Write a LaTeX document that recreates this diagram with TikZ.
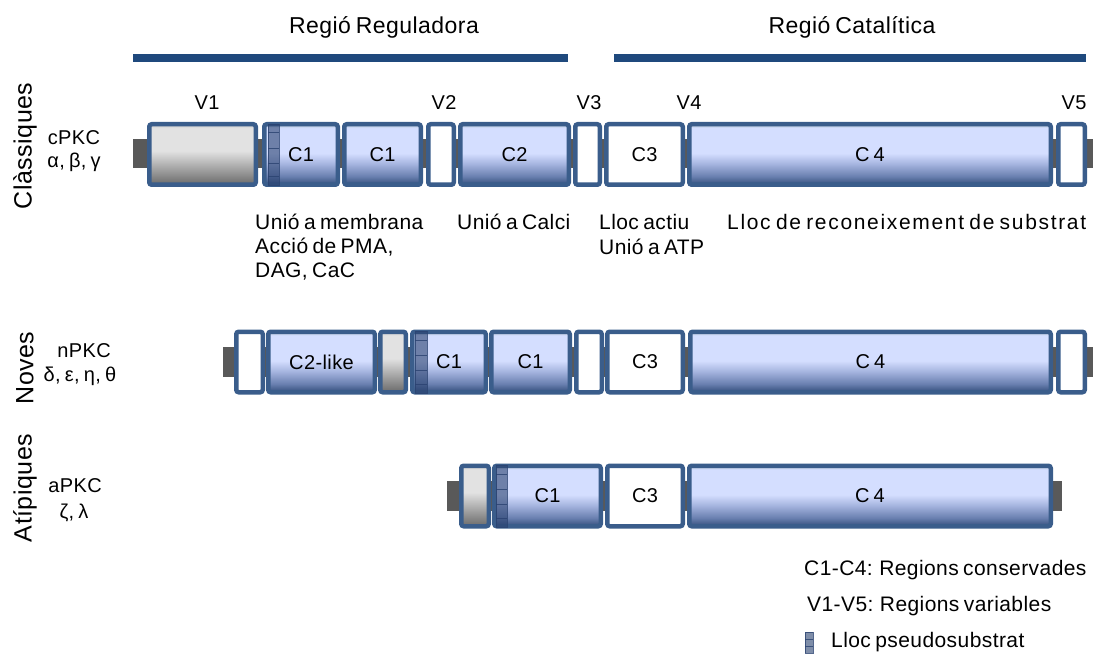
\documentclass[tikz,border=0pt]{standalone}
\usepackage{fontspec}
\setmainfont{Liberation Sans}[LetterSpace=2, WordSpace=0.7]
\definecolor{bord}{HTML}{3A5D8B}
\definecolor{navy}{HTML}{1F497D}
\definecolor{tabgray}{HTML}{595959}
\definecolor{cdark}{HTML}{334D7C}
\definecolor{cmid}{HTML}{6A80B0}
\definecolor{cmid2}{HTML}{A4B3DE}
\definecolor{clight}{HTML}{D4DEFF}
\definecolor{ctop}{HTML}{AEBFCC}
\definecolor{gdark}{HTML}{6A6A6A}
\definecolor{glight}{HTML}{E2E2E2}
\definecolor{pseudo}{HTML}{2A4270}
\pgfdeclareverticalshading{cshade}{100bp}{color(0bp)=(cdark); color(25bp)=(cdark); color(32bp)=(cmid); color(42bp)=(cmid2); color(51bp)=(clight); color(72bp)=(clight); color(75bp)=(ctop); color(100bp)=(ctop)}
\pgfdeclareverticalshading{gshade}{100bp}{color(0bp)=(gdark); color(25bp)=(gdark); color(53bp)=(glight); color(72bp)=(glight); color(75bp)=(glight!88!black); color(100bp)=(glight!88!black)}
\begin{document}
\begin{tikzpicture}[x=1pt,y={(0pt,-1pt)},
  dom/.style={draw=bord, line width=4.5pt, rounded corners=2.5pt, inner sep=0pt, minimum height=60.5pt, font=\fontsize{20}{24}\selectfont},
  cdom/.style={dom, shade, shading=cshade},
  gdom/.style={dom, shade, shading=gshade},
  wdom/.style={dom, fill=white},
  txt/.style={inner sep=0pt, font=\fontsize{20}{24}\selectfont},
  ann/.style={inner sep=0pt, anchor=west, font=\fontsize{21}{25}\selectfont},
  ttl/.style={inner sep=0pt, font=\fontsize{23}{27}\selectfont},
  grp/.style={inner sep=0pt, rotate=90, font=\fontsize{25}{30}\selectfont},
  tab/.style={fill=tabgray, draw=none},
  strip/.style={fill=pseudo, fill opacity=0.6, draw=pseudo, line width=0.6pt, draw opacity=0.8},
  bar/.style={draw=navy, line width=8pt}
]
\useasboundingbox (0,0) rectangle (1093,655);

% titles and bars
\node[ttl] (treg) at (384,27) {Regió Reguladora};
\node[ttl] (tcat) at (852,27) {Regió Catalítica};
\coordinate (rb1) at (133,58); \coordinate (rb2) at (568,58);
\coordinate (cb1) at (614,58); \coordinate (cb2) at (1086,58);
\draw[bar] (rb1) -- (rb2);
\draw[bar] (cb1) -- (cb2);

% V labels
\node[txt] (lv1) at (207,103) {V1};
\node[txt] (lv2) at (444,103) {V2};
\node[txt] (lv3) at (589,103) {V3};
\node[txt] (lv4) at (689,103) {V4};
\node[txt] (lv5) at (1074,103) {V5};

% group labels
\node[grp] (gcl) at (25,146) {Clàssiques};
\node[grp] (gno) at (25,368) {Noves};
\node[grp] (gat) at (25,488) {Atípiques};
\node[txt] (cpkc) at (74,138) {cPKC};
\node[txt] (cgr) at (74,162) {α, β, γ};
\node[txt] (npkc) at (84,351) {nPKC};
\node[txt] (ngr) at (80,376) {δ, ε, η, θ};
\node[txt] (apkc) at (75,486) {aPKC};
\node[txt] (agr) at (74,513) {ζ, λ};

% ---- row 1: cPKC
\fill[tab] (133,139) rectangle (1093,168);
\node[gdom, minimum width=106.5pt] (r1v1) at (202.5,154.5) {};
\node[cdom, minimum width=73.5pt] (r1c1a) at (301,154.5) {C1};
\node[cdom, minimum width=76.5pt] (r1c1b) at (382.5,154.5) {C1};
\node[wdom, minimum width=25.5pt] (r1v2) at (441,154.5) {};
\node[cdom, minimum width=108.5pt] (r1c2) at (514.5,154.5) {C2};
\node[wdom, minimum width=24.5pt] (r1v3) at (587.5,154.5) {};
\node[wdom, minimum width=76.5pt] (r1c3) at (644.5,154.5) {C3};
\node[cdom, minimum width=361.5pt] (r1c4) at (870,154.5) {C 4};
\node[wdom, minimum width=26.5pt] (r1v5) at (1071.5,154.5) {};
\draw[strip] (268,124) rectangle (279,185);
\draw[pseudo, line width=0.6pt, opacity=0.8] (268,132) -- (279,132) (268,148) -- (279,148) (268,163) -- (279,163) (268,176) -- (279,176);

% annotations
\node[ann] (a1) at (255,222) {Unió a membrana};
\node[ann] (a2) at (255,247) {Acció de PMA,};
\node[ann] (a3) at (255,272) {DAG, CaC};
\node[ann] (a4) at (457,222) {Unió a Calci};
\node[ann] (a5) at (599,222) {Lloc actiu};
\node[ann] (a6) at (599,247) {Unió a ATP};
\node[ann] (a7) at (727,222) {\addfontfeatures{LetterSpace=8}Lloc de reconeixement de substrat};

% ---- row 2: nPKC
\fill[tab] (223,347) rectangle (1093,377);
\node[wdom, minimum width=26.5pt] (r2v1) at (249.5,362) {};
\node[cdom, minimum width=106.5pt] (r2c2) at (321.5,362) {C2-like};
\node[gdom, minimum width=25.5pt] (r2g) at (393,362) {};
\node[cdom, minimum width=73.5pt] (r2c1a) at (449,362) {C1};
\node[cdom, minimum width=78.5pt] (r2c1b) at (530.5,362) {C1};
\node[wdom, minimum width=25.5pt] (r2v3) at (589,362) {};
\node[wdom, minimum width=75.5pt] (r2c3) at (645,362) {C3};
\node[cdom, minimum width=360.5pt] (r2c4) at (870.5,362) {C 4};
\node[wdom, minimum width=26.5pt] (r2v5) at (1071.5,362) {};
\draw[strip] (415,331) rectangle (427,393);
\draw[pseudo, line width=0.6pt, opacity=0.8] (415,340) -- (427,340) (415,355) -- (427,355) (415,370) -- (427,370) (415,384) -- (427,384);

% ---- row 3: aPKC
\fill[tab] (447,481) rectangle (1062,511);
\node[gdom, minimum width=27.5pt] (r3g) at (475,496) {};
\node[cdom, minimum width=106.5pt] (r3c1) at (547.5,496) {C1};
\node[wdom, minimum width=75.5pt] (r3c3) at (645,496) {C3};
\node[cdom, minimum width=361.5pt] (r3c4) at (870,496) {C 4};
\draw[strip] (496,465) rectangle (507,527);
\draw[pseudo, line width=0.6pt, opacity=0.8] (496,474) -- (507,474) (496,489) -- (507,489) (496,504) -- (507,504) (496,518) -- (507,518);

% legend
\node[ann] (l1) at (804,570) {C1-C4: Regions conservades};
\node[ann] (l2) at (807,606) {V1-V5: Regions variables};
\node[ann] (l3) at (831,642) {Lloc pseudosubstrat};
\draw[strip] (805,632) rectangle (813,653);
\draw[pseudo, line width=0.6pt, opacity=0.8] (805,639) -- (813,639) (805,646) -- (813,646);
\end{tikzpicture}
\end{document}
